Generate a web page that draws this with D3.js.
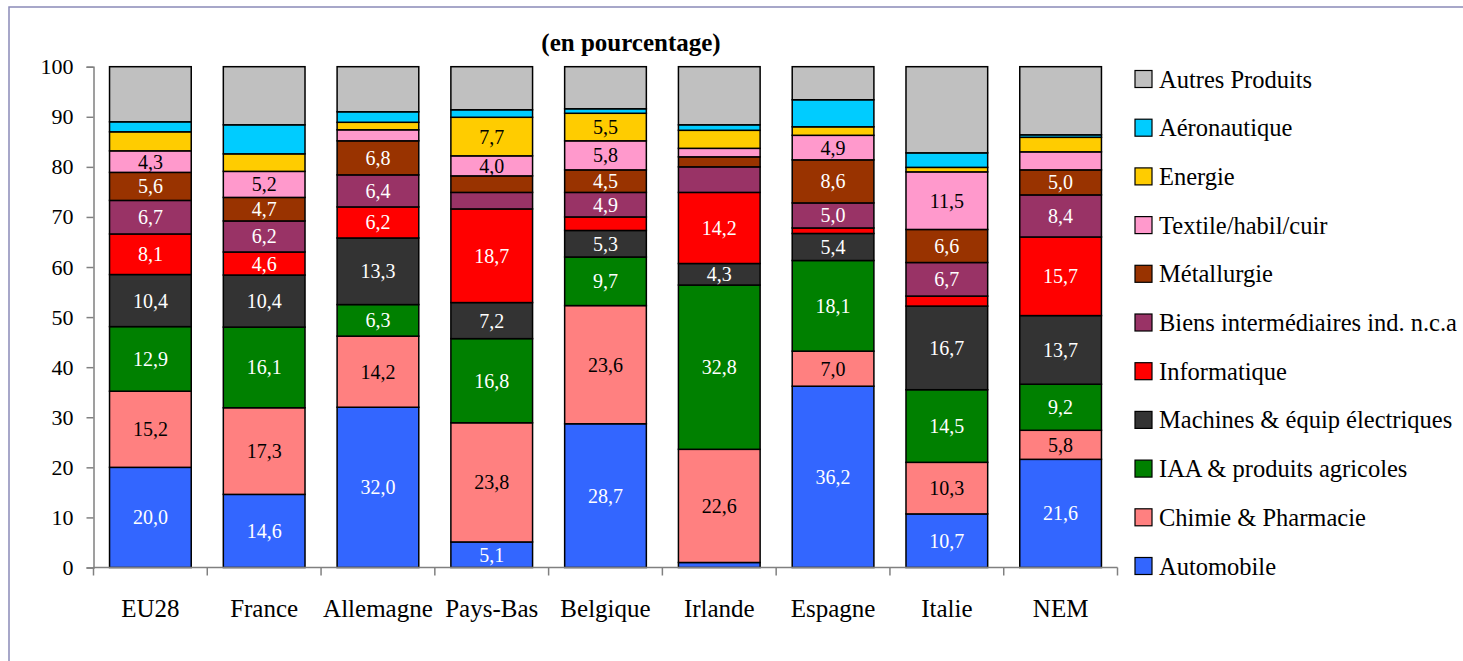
<!DOCTYPE html>
<html>
<head>
<meta charset="utf-8">
<script src="https://cdn.jsdelivr.net/npm/d3@7"></script>
<style>
  body { margin: 0; background: #fff; }
  svg { display: block; }
  svg text { font-family: "Liberation Serif", "DejaVu Serif", serif; }
</style>
</head>
<body>
<div class="chart"></div>
<script>
const countries = ['EU28', 'France', 'Allemagne', 'Pays-Bas', 'Belgique', 'Irlande', 'Espagne', 'Italie', 'NEM'];

// one array per product, in stack order (bottom -> top)
const automobile   = [20.0, 14.6, 32.0,  5.1, 28.7,  1.0, 36.2, 10.7, 21.6];
const chimie       = [15.2, 17.3, 14.2, 23.8, 23.6, 22.6,  7.0, 10.3,  5.8];
const iaa          = [12.9, 16.1,  6.3, 16.8,  9.7, 32.8, 18.1, 14.5,  9.2];
const machines     = [10.4, 10.4, 13.3,  7.2,  5.3,  4.3,  5.4, 16.7, 13.7];
const informatique = [ 8.1,  4.6,  6.2, 18.7,  2.7, 14.2,  1.1,  2.0, 15.7];
const biens        = [ 6.7,  6.2,  6.4,  3.3,  4.9,  5.1,  5.0,  6.7,  8.4];
const metallurgie  = [ 5.6,  4.7,  6.8,  3.3,  4.5,  2.0,  8.6,  6.6,  5.0];
const textile      = [ 4.3,  5.2,  2.2,  4.0,  5.8,  1.7,  4.9, 11.5,  3.6];
const energie      = [ 3.8,  3.5,  1.5,  7.7,  5.5,  3.6,  1.7,  0.9,  2.9];
const aeronautique = [ 2.0,  5.8,  2.1,  1.5,  0.9,  1.1,  5.4,  2.9,  0.5];
const autres       = [11.0, 11.6,  9.0,  8.6,  8.4, 11.6,  6.6, 17.2, 13.6];

const seriesNames = ['Automobile', 'Chimie & Pharmacie', 'IAA & produits agricoles',
  'Machines & équip électriques', 'Informatique', 'Biens intermédiaires ind. n.c.a',
  'Métallurgie', 'Textile/habil/cuir', 'Energie', 'Aéronautique', 'Autres Produits'];
const seriesValues = [automobile, chimie, iaa, machines, informatique, biens,
  metallurgie, textile, energie, aeronautique, autres];

const yTicks = [0, 10, 20, 30, 40, 50, 60, 70, 80, 90, 100];

const colors = ['#3366ff', '#ff8080', '#008000', '#333333', '#ff0000', '#993366',
  '#993300', '#ff99cc', '#ffcc00', '#00ccff', '#c0c0c0'];
const labelColors = ['#fff', '#000', '#fff', '#fff', '#fff', '#fff', '#fff', '#000', '#000', '#000', '#000'];
const noLabelSeries = ['Aéronautique', 'Autres Produits'];
const noLabelCells = [['Irlande', 'Biens intermédiaires ind. n.c.a']];

const W = 1463, H = 661;
const serif = '"Liberation Serif", "DejaVu Serif", serif';

// build rows for d3.stack
const rows = countries.map((c, i) => {
  const r = {country: c};
  seriesNames.forEach((s, k) => { r[s] = seriesValues[k][i]; });
  return r;
});
const stacked = d3.stack().keys(seriesNames)(rows);

const x = d3.scaleBand()
  .domain(countries)
  .range([93.5, 1117.5])
  .paddingInner(0.282)
  .paddingOuter(0.141);

const y = d3.scaleLinear()
  .domain([0, 100])
  .range([567.5, 66.7]);

const fmt = v => d3.format('.1f')(v).replace('.', ',');

const svg = d3.select('.chart').append('svg')
  .attr('width', W)
  .attr('height', H)
  .attr('font-family', serif);

// outer frame
svg.append('rect')
  .attr('x', 9).attr('y', 7)
  .attr('width', W + 20).attr('height', H + 20)
  .attr('fill', 'none')
  .attr('stroke', '#8a8ab8')
  .attr('stroke-width', 1.5);

svg.append('text')
  .attr('x', 631).attr('y', 51)
  .attr('text-anchor', 'middle')
  .attr('font-family', serif)
  .attr('font-weight', 'bold')
  .attr('font-size', 25)
  .text('(en pourcentage)');

// bars
const layer = svg.append('g').selectAll('g')
  .data(stacked)
  .enter().append('g')
    .attr('fill', (d, i) => colors[i]);

layer.selectAll('rect')
  .data(d => d)
  .enter().append('rect')
    .attr('x', d => x(d.data.country))
    .attr('y', d => y(d[1]))
    .attr('width', x.bandwidth())
    .attr('height', d => y(d[0]) - y(d[1]))
    .attr('stroke', '#000')
    .attr('stroke-width', 1.5);

// value labels
stacked.forEach((s, k) => {
  if (noLabelSeries.includes(s.key)) return;
  const pts = s.filter(d => {
    const v = d[1] - d[0];
    if (v < 4) return false;
    return !noLabelCells.some(c => c[0] === d.data.country && c[1] === s.key);
  });
  svg.append('g').selectAll('text')
    .data(pts)
    .enter().append('text')
      .attr('x', d => x(d.data.country) + x.bandwidth() / 2)
      .attr('y', d => (y(d[0]) + y(d[1])) / 2)
      .attr('dy', '0.35em')
      .attr('text-anchor', 'middle')
      .attr('font-family', serif)
      .attr('font-size', 20)
      .attr('fill', labelColors[k])
      .text(d => fmt(d[1] - d[0]));
});

// y axis
const yAxis = svg.append('g')
  .attr('transform', `translate(${x.range()[0]}, 0)`)
  .call(d3.axisLeft(y).tickValues(yTicks).tickSize(7).tickPadding(13).tickFormat(d3.format('d')))
  .attr('font-family', serif);
yAxis.select('.domain').attr('stroke', '#808080').attr('stroke-width', 1.5);
yAxis.selectAll('.tick line').attr('stroke', '#808080').attr('stroke-width', 1.5);
yAxis.selectAll('.tick text')
  .attr('font-family', serif)
  .attr('font-size', 22)
  .attr('fill', '#000');

// x axis: ticks between the categories
const xAxisG = svg.append('g');
xAxisG.append('line')
  .attr('x1', x.range()[0]).attr('x2', x.range()[1])
  .attr('y1', y(0)).attr('y2', y(0))
  .attr('stroke', '#808080').attr('stroke-width', 1.5);
const bounds = countries.map(c => x(c) - x.step() * x.paddingInner() / 2).concat([x.range()[1]]);
xAxisG.selectAll('.xtick')
  .data(bounds)
  .enter().append('line')
    .attr('x1', d => d).attr('x2', d => d)
    .attr('y1', y(0)).attr('y2', y(0) + 8)
    .attr('stroke', '#808080').attr('stroke-width', 1.5);
xAxisG.selectAll('.xlabel')
  .data(countries)
  .enter().append('text')
    .attr('x', d => x(d) + x.bandwidth() / 2)
    .attr('y', 617)
    .attr('text-anchor', 'middle')
    .attr('font-family', serif)
    .attr('font-size', 25)
    .text(d => d);

// legend, top to bottom = top of stack first
const legendItems = seriesNames.map((s, i) => ({name: s, color: colors[i]})).reverse();
const legend = svg.append('g').selectAll('g')
  .data(legendItems)
  .enter().append('g')
    .attr('transform', (d, i) => `translate(1135, ${79 + i * 48.7})`);
legend.append('rect')
  .attr('x', 0).attr('y', -8.5)
  .attr('width', 17).attr('height', 17)
  .attr('fill', d => d.color)
  .attr('stroke', '#000')
  .attr('stroke-width', 1.2);
legend.append('text')
  .attr('x', 24).attr('y', 0)
  .attr('dy', '0.35em')
  .attr('font-family', serif)
  .attr('font-size', 24.5)
  .text(d => d.name);
</script>
</body>
</html>
